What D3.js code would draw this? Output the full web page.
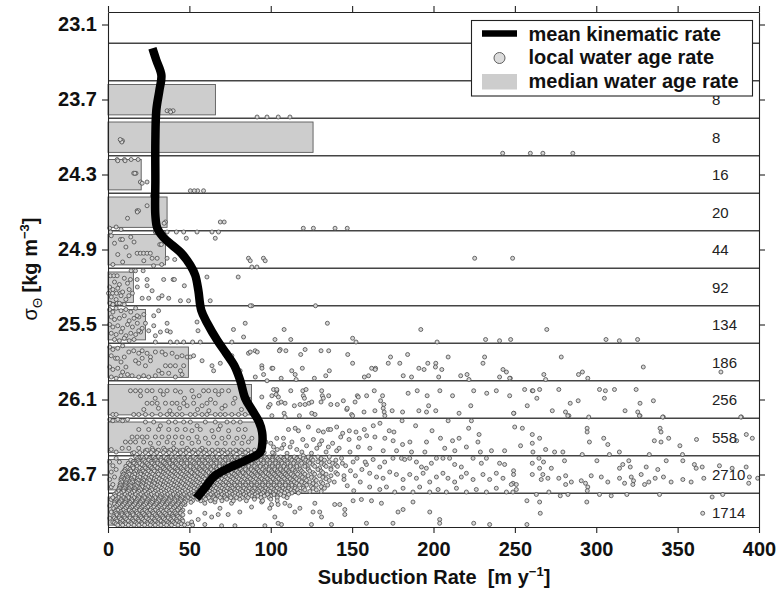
<!DOCTYPE html>
<html><head><meta charset="utf-8">
<script src="https://cdn.jsdelivr.net/npm/d3@7"></script>
<style>
body{margin:0;background:#fff}
text{font-family:"Liberation Sans",Arial,Helvetica,sans-serif}
</style>
</head><body>
<svg id="chart" width="780" height="589"></svg>
<script>
// ---------------- DATA ----------------
const xTicks = [0,50,100,150,200,250,300,350,400];
const yTicks = [23.1,23.7,24.3,24.9,25.5,26.1,26.7];
const binLines = [23.25,23.55,23.85,24.15,24.45,24.75,25.05,25.35,25.65,25.95,26.25,26.55,26.85];
const binTops  = [23.55,23.85,24.15,24.45,24.75,25.05,25.35,25.65,25.95,26.25,26.55,26.85];
const binCounts = [8,8,16,20,44,92,134,186,256,558,2710,1714];
const medianRate = [66,126,20.4,36.3,35.3,15.6,23,49.4,88.2,95,40,25];

const kinSigma = [23.29,23.386,23.506,23.626,23.786,24.026,24.346,24.626,24.73,24.802,24.866,24.93,25.026,25.106,25.226,25.386,25.49,25.626,25.73,25.826,25.946,26.09,26.186,26.282,26.362,26.466,26.522,26.586,26.642,26.714,26.802,26.89];
const kinRate  = [27.3,29.7,32.8,31.6,29.7,29.1,29.1,29.1,30.3,34.0,39.5,45.1,50.6,53.6,55.5,57.3,61.0,67.1,72.6,77.5,81.2,84.3,88.6,92.9,94.7,94.7,93.5,84.9,75.1,65.3,59.8,54.3];

// local water age rate points [rate, sigma]
const ptsRow1 = [[36.3,23.79],[38.1,23.79],[40,23.79],[38.5,23.8],[91.6,23.84],[97.7,23.84],[104.6,23.84],[111.8,23.84]];
const ptsRow2 = [[8.1,24.03],[8.9,24.03],[8.5,24.04],[7.5,24.02],[242.5,24.13],[259.5,24.13],[267.2,24.13],[285.6,24.13]];
const ptsRow3 = [[5.6,24.18],[10.1,24.18],[14.2,24.18],[18.5,24.18],[15.8,24.29],[17.2,24.29],[19.9,24.36],[24,24.36],[50.6,24.43],[55.1,24.43],[58.7,24.43],[16.5,24.29],[21,24.37],[10.5,24.19],[6,24.19],[53,24.43]];
const ptsRow4 = [[27.3,24.47],[30,24.47],[28.5,24.48],[17.9,24.59],[18.8,24.59],[35.3,24.68],[69,24.68],[71.4,24.68],[120,24.73],[126.2,24.73],[139.5,24.73],[147,24.73],[5,24.72],[1,24.73],[18,24.6],[34.5,24.69],[12,24.65],[24,24.55],[8,24.74],[29,24.47]];
const ptsRow5 = [[1.5,24.76],[29.1,24.76],[36.3,24.76],[42,24.76],[46.5,24.76],[54.7,24.76],[63.9,24.76],[67.9,24.76],[48.1,24.81],[65.9,24.81],[7.7,24.82],[8.9,24.82],[31.8,24.86],[32.8,24.86],[17.9,24.93],[19.9,24.93],[21.9,24.93],[24,24.93],[26,24.93],[27.1,24.97],[30.2,24.97],[36.3,24.97],[86.3,24.97],[95.5,24.97],[225.3,24.97],[248.6,24.97],[87.4,24.99],[96.6,24.99],[88.4,25.04],[91.5,25.04],[2,24.79],[4,24.85],[6,24.94],[9,25.0],[11,24.88],[14,24.8],[3,25.02],[13,24.95],[22,24.99],[28,25.03],[41,24.98],[44,24.93],[33,25.02],[16,24.84]];
const ptsRow6 = [[14.2,25.07],[16.9,25.07],[21.6,25.07],[1.5,25.11],[3.6,25.11],[5.6,25.11],[60.8,25.12],[80,25.12],[13.8,25.14],[17.9,25.14],[24,25.14],[34.2,25.14],[40,25.14],[40.8,25.14],[24,25.19],[46.9,25.19],[27.1,25.23],[0.3,25.25],[2.8,25.25],[5.2,25.25],[7.7,25.25],[12.8,25.27],[33.2,25.27],[21,25.29],[25,25.29],[31.1,25.29],[37.3,25.29],[44.5,25.31],[49.5,25.31],[62.8,25.31],[1.5,25.33],[5.6,25.33],[88.4,25.35],[127.5,25.35],[87.4,25.35],[1,25.2],[3,25.22],[6,25.21],[9,25.24],[2,25.28],[5,25.3],[8,25.27],[11,25.3],[13,25.22],[4,25.16],[7,25.18],[10,25.13],[12,25.17],[15,25.25],[18,25.2],[1,25.33],[3,25.34],[7,25.33],[10,25.34]];
const ptsRow7 = [[1,25.38],[3,25.4],[5,25.37],[8,25.39],[11,25.38],[14,25.4],[17,25.37],[2,25.44],[4,25.46],[7,25.45],[10,25.43],[13,25.47],[16,25.45],[19,25.44],[22,25.42],[1,25.5],[3,25.52],[6,25.51],[9,25.53],[12,25.5],[15,25.52],[18,25.49],[21,25.53],[2,25.57],[5,25.58],[8,25.56],[11,25.59],[14,25.57],[17,25.58],[20,25.56],[4,25.62],[7,25.63],[10,25.61],[13,25.63],[16,25.62],
 [17.9,25.43],[28.1,25.43],[31.1,25.39],[36.3,25.49],[23,25.49],[84.3,25.49],[28.1,25.51],[54.7,25.48],[18.9,25.55],[25,25.55],[36.3,25.55],[55.3,25.55],[32.2,25.56],[38.3,25.56],[29.1,25.59],[65.9,25.6],[83.3,25.6],[77.1,25.54],[108.2,25.54],[192.2,25.54],[269.6,25.54],[102.6,25.62],[112.3,25.62],[232,25.62],[247.4,25.62],[306,25.62],[325.4,25.62],[29.1,25.64],[38.3,25.64],[42.4,25.64],[46.5,25.64],[52,25.64],[56.7,25.64],[76.1,25.64],[152.4,25.64],[202.2,25.64],[240.6,25.63],[314.2,25.63],[134.8,25.49],[150.3,25.61]];
const ptsRow8 = [[12.8,25.72],[15.8,25.71],[18.9,25.73],[21,25.71],[24,25.73],[26.1,25.76],[29.1,25.72],[33.2,25.72],[35.3,25.74],[39.4,25.73],[42.4,25.76],[45.5,25.75],[48.6,25.76],[50.6,25.76],[16.9,25.79],[18.9,25.81],[21,25.77],[23,25.83],[26.1,25.79],[31.1,25.87],[35.3,25.83],[38.3,25.83],[41.4,25.83],[44.5,25.87],[46.5,25.83],[14.8,25.91],[18.9,25.92],[21.9,25.91],[25,25.92],[29.1,25.91],[33.2,25.89],[37.3,25.89],[41.4,25.92],[45.5,25.9],[52.6,25.75],[57.8,25.79],[63.9,25.83],[64.9,25.87],[69,25.81],[74.1,25.78],[76.1,25.75],[81.2,25.87],[86.3,25.73],[90.4,25.71],[94.5,25.83],[100.7,25.85],[105.8,25.7],[4.6,25.77],[5.8,25.77],
 [1,25.68],[3,25.7],[6,25.69],[9,25.67],[2,25.75],[8,25.8],[10,25.76],[1,25.84],[3,25.86],[6,25.85],[9,25.88],[11,25.84],[2,25.92],[5,25.93],[8,25.91],[12,25.9],
 [87.4,25.72],[91.7,25.72],[94.6,25.85],[95.6,25.9],[97.7,25.95],[90.5,25.92],
 [105.3,25.71],[109.3,25.71],[121.1,25.7],[118.4,25.74],[130.9,25.71],[135.6,25.71],[147.3,25.74],[150.3,25.81],[101.3,25.85],[112.9,25.87],[115,25.9],[119.4,25.85],[106.4,25.93],[115.6,25.94],[126.8,25.93],[133.8,25.91],[136,25.87],[157.5,25.92],[160.1,25.91],[162,25.85],[164.4,25.85],[164.2,25.86],[172.2,25.81],[173.6,25.76],[179.3,25.81],[184.1,25.74],[181.4,25.91],[186.5,25.92],[191,25.85],[194.2,25.86],[196.5,25.81],[201.4,25.81],[201.2,25.84],[205.1,25.86],[203.2,25.92],[209,25.76],[216.7,25.91],[220.6,25.9],[221.8,25.94],[230.4,25.81],[231.4,25.76],[240.6,25.92],[242.7,25.86],[244.8,25.88],[247.2,25.93],
 [278.5,25.76],[328.9,25.84],[267.8,25.9],[268.9,25.94],[289.1,25.9],[291.5,25.88],[294.8,25.93],[376.6,25.88],[246.8,25.93]];
const ptsRow9 = [[13.8,26.03],[16.9,26.03],[19.9,26.03],[24,26.03],[27.1,26.03],[32.2,26.03],[36.3,26.03],[41.4,26.03],[51.6,26.03],[58.7,26.03],[61.8,26.03],[65.9,26.03],[70,26.03],[74.1,26.03],[44.5,26.04],[52.6,26.08],[24,26.13],[27.1,26.13],[30.2,26.13],[35.3,26.13],[39.4,26.13],[42.4,26.13],[46.5,26.13],[52.6,26.13],[60.8,26.13],[65.9,26.13],[48.6,26.15],[57.8,26.15],[72,26.15],[15.8,26.22],[18.9,26.22],[23,26.22],[27.1,26.22],[32.2,26.22],[36.3,26.22],[39.4,26.22],[42.4,26.22],[45.5,26.22],[50.6,26.22],[53.6,26.22],[57.8,26.22],[60.8,26.22],[65.9,26.22],[69,26.22],[72,26.22],[76.1,26.22],[80.2,26.22],[84.3,26.22],[94.5,26.08],[100.7,26.07],[103.7,26.03],[104.7,26.13],[98.6,26.16],[3,26.22],[5,26.22],
 [20,26.07],[29,26.09],[34,26.06],[47,26.09],[56,26.07],[63,26.1],[68,26.06],[78,26.09],[84,26.05],[22,26.18],[31,26.17],[38,26.19],[44,26.17],[55,26.18],[62,26.19],[70,26.17],[77,26.13],[82,26.18],[87,26.1],
 [101.7,26.02],[103.7,26.02],[103.3,26.06],[104.7,26.08],[112.3,26.03],[119.7,26.03],[121.7,26.02],[120,26.07],[120.7,26.09],[131.3,26.03],[131.7,26.07],[132.3,26.09],[135.6,26.07],[99.6,26.14],[106.4,26.12],[108.8,26.13],[114.5,26.15],[118,26.14],[121.1,26.14],[123.5,26.13],[125.2,26.12],[130.9,26.12],[136.9,26.14],[140.9,26.14],[144.6,26.11],[146.7,26.18],[151.8,26.12],[153.2,26.07],[153.8,26.08],[158.9,26.07],[163.6,26.03],[167.5,26.11],[168.7,26.07],[169.5,26.14],[169.1,26.17],[169.7,26.2],[170.1,26.23],[164,26.19],[149.7,26.22],[147,26.17],[157.3,26.2],[174.6,26.19],[181,26.2],[184.4,26.05],[190,26.03],[196.1,26.07],[197,26.15],[191,26.19],[195.7,26.2],[201.4,26.19],[203.9,26.03],[211.7,26.07],[215.7,26.21],[222.9,26.15],[224.7,26.03],[232.7,26.05],[238.6,26.03],[246.8,26.07],[249.4,26.21],[100.7,26.23],[108.2,26.21],[108.8,26.24],[117.6,26.23],[125.2,26.21],[127.2,26.22],[150.3,26.23],
 [256,26.02],[260.7,26.03],[261.1,26.03],[265.2,26.02],[263.5,26.09],[277,26.02],[302,26.02],[305.6,26.03],[305,26.09],[311.2,26.02],[324.5,26.02],[326.9,26.13],[335.1,26.11],[288.9,26.11],[284,26.13],[257.6,26.15],[249.2,26.21],[273,26.19],[281.1,26.2],[283.2,26.23],[295.4,26.24],[317.7,26.19],[325.5,26.2],[326.9,26.23],[341.2,26.24],[389.2,26.24]];
const ptsRow10 = [[23,26.28],[28.1,26.28],[37.3,26.28],[41.4,26.28],[46.5,26.28],[50.6,26.28],[59.8,26.28],[65.9,26.28],[73.1,26.28],[77.1,26.28],[81.2,26.28],[32.2,26.31],[54.7,26.31],[69,26.31],[18.9,26.34],[25,26.34],[31.1,26.34],[37.3,26.34],[42.4,26.34],[47.5,26.34],[56.7,26.34],[67.9,26.34],[80.2,26.34],[84.3,26.34],[51.6,26.35],[63.9,26.35],[74.1,26.35],[14.8,26.4],[17.9,26.4],[21,26.4],[24,26.4],[29.1,26.4],[33.2,26.4],[37.3,26.4],[41.4,26.4],[45.5,26.4],[54.7,26.4],[64.9,26.4],[74.1,26.4],[83.3,26.4],[49.5,26.41],[59.8,26.41],[70,26.41],[79.2,26.41],[88.4,26.41],[10.7,26.44],[13.8,26.44],[16.9,26.44],[21.9,26.44],[36.3,26.44],[55.7,26.44],[86.3,26.44],[26.1,26.45],[31.1,26.45],[40.3,26.45],[45.5,26.45],[51.6,26.45],[61.8,26.45],[67,26.45],[72,26.45],[77.1,26.45],[82.3,26.45],[8.7,26.49],[12.8,26.49],[18.9,26.49],[27.1,26.49],[34.2,26.49],[40.3,26.49],[48.6,26.49],[57.8,26.49],[23,26.51],[30.2,26.51],[37.3,26.51],[44.5,26.51],[52.6,26.51],[63.9,26.51],[69,26.51],[79.2,26.51],[83.3,26.52],[75.1,26.52],
 [1,26.26],[3,26.27],[6,26.26],[9,26.27],[12,26.26],[2,26.5],[5,26.52],[15,26.53],
 [110.9,26.34],[115,26.33],[117,26.35],[123.1,26.32],[129.3,26.35],[132.3,26.36],[135.4,26.34],[136.8,26.34],[140.5,26.32],[144.2,26.37],[148.3,26.35],[152.4,26.36],[157.5,26.34],[163,26.31],[167.1,26.29],[172.8,26.35],[175.7,26.36],[180.7,26.27],[189,26.31],[199.1,26.35],[209,26.27],[221.6,26.33],[228,26.38],[223.3,26.27],[249.9,26.32],[103.7,26.41],[107.8,26.41],[119.7,26.42],[126.2,26.42],[131.3,26.43],[143,26.4],[148.1,26.42],[154.4,26.41],[158.9,26.39],[164,26.4],[170.1,26.41],[175.2,26.43],[181,26.46],[185.5,26.44],[195.7,26.44],[204.3,26.41],[211.7,26.43],[215.7,26.41],[220.2,26.48],[227.3,26.44],[228.8,26.52],[235.6,26.51],[243.7,26.51],[101.7,26.48],[106.8,26.49],[111.9,26.48],[119.1,26.52],[128.3,26.49],[135.4,26.48],[140.5,26.51],[148.7,26.52],[153.8,26.48],[160.9,26.49],[169.1,26.51],[177.3,26.51],[186.5,26.52],[194.7,26.52],[206.9,26.49],[213.1,26.51],
 [100,26.45],[104,26.5],[108,26.46],[113,26.44],[116,26.5],[122,26.47],[125,26.53],[130,26.46],[134,26.52],[138,26.45],[142,26.49],[102,26.53],[110,26.53],[120,26.55],[97,26.44],
 [254.6,26.33],[260.7,26.38],[265.2,26.41],[253.5,26.47],[260.7,26.45],[261.1,26.52],[268.9,26.5],[274.4,26.52],[279.5,26.52],[291.4,26.54],[294.4,26.33],[294.4,26.36],[295.8,26.44],[304.6,26.41],[307.1,26.46],[314.2,26.52],[308.1,26.54],[326.5,26.23],[339.2,26.33],[339.8,26.36],[335.7,26.43],[339.8,26.44],[344.5,26.41],[332.6,26.54],[351.4,26.47],[353,26.54],[361.6,26.42],[386.3,26.43],[392.2,26.38],[395.9,26.41],[282.5,26.23],[340.8,26.24],[388.8,26.24]];
const ptsRow11 = [[143.5,26.57],[150.6,26.6],[153,26.57],[158.8,26.62],[162.9,26.58],[167,26.64],[170,26.6],[175.1,26.57],[180.3,26.57],[182.3,26.58],[185.4,26.57],[189.5,26.6],[192.6,26.64],[195.6,26.65],[198.7,26.61],[201.8,26.57],[205.8,26.57],[209.9,26.57],[213,26.62],[217.1,26.64],[224.3,26.57],[229.4,26.61],[232.5,26.57],[240.6,26.61],[243.7,26.62],[160.8,26.69],[165,26.72],[169,26.73],[173.1,26.68],[177.2,26.7],[181.3,26.74],[185.4,26.7],[189.5,26.73],[193.6,26.69],[197.7,26.76],[201.8,26.72],[205.8,26.69],[208.9,26.73],[213,26.76],[217.1,26.72],[220.2,26.69],[224.3,26.74],[230.4,26.7],[234.5,26.74],[238.6,26.69],[242.7,26.73],[248.8,26.77],[160.8,26.8],[167,26.82],[171.1,26.8],[176.2,26.84],[181.3,26.81],[187.4,26.84],[191.5,26.8],[197.7,26.84],[202.8,26.82],[207.9,26.84],[214.1,26.81],[220.2,26.84],[226.3,26.82],[232.5,26.84],[238.6,26.81],[244.8,26.84],[250.9,26.82],
 [146,26.63],[149,26.67],[152,26.71],[155,26.76],[147,26.79],[151,26.83],[156,26.66],[145,26.74],[158,26.6],
 [260.7,26.61],[264.8,26.57],[265.2,26.65],[267.6,26.6],[272.4,26.65],[280.5,26.59],[267.2,26.7],[260.7,26.7],[249.2,26.67],[249.2,26.7],[247.8,26.78],[250.9,26.78],[248.8,26.84],[266.2,26.74],[270.3,26.73],[277,26.73],[281.2,26.71],[281.2,26.78],[284.7,26.76],[270.9,26.84],[290.8,26.75],[293.4,26.77],[294.8,26.8],[294.5,26.83],[296.9,26.71],[300.4,26.59],[303.1,26.72],[307.1,26.76],[314.3,26.65],[314.3,26.73],[316.3,26.62],[317.4,26.77],[320,26.59],[320.9,26.64],[321.5,26.72],[322.9,26.75],[322.5,26.78],[327.6,26.7],[329.7,26.78],[330.7,26.64],[332.3,26.76],[337.8,26.66],[336.2,26.73],[341.3,26.72],[343,26.59],[346,26.76],[353.2,26.74],[353.2,26.59],[358.3,26.76],[360.3,26.62],[361.4,26.65],[365.1,26.64],[366.1,26.73],[375.7,26.63],[383.5,26.65],[392.1,26.64],[394.1,26.72],[399.2,26.73],[393.7,26.77],
 [1,26.6],[3,26.63],[2,26.68],[5,26.57],[1,26.74],[4,26.72],[2,26.8],[6,26.83],[3,26.78],[7,26.6],[5,26.66]];
const ptsRow12 = [[263.2,26.86],[277.9,26.87],[282.6,26.86],[302,26.86],[309.2,26.87],[318.8,26.86],[338.9,26.86],[371.2,26.88],[377.7,26.86],[257.4,26.91],[265.2,26.92],[265.6,27.01],[294.2,26.92],[365.4,27.01],[257.4,27.1],
 [100.5,26.94],[104.5,26.94],[108.7,26.93],[111.7,26.95],[114.8,27],[117.9,26.97],[127.1,26.93],[126,27],[130.1,27],[131.2,27.04],[139.3,26.94],[142.4,26.94],[145.5,27.02],[145.5,26.98],[150.6,26.91],[155.7,26.9],[161.9,26.91],[168,26.93],[178.2,27],[181.3,26.98],[187.4,26.92],[197.7,27],[203.8,27.06],[203.8,27.09],[224.7,27.09],[234.5,27.1],[158.8,27.09],[175.1,27.09],[125,27.1],[106.6,27.1],[137.3,27.1],
 [47.3,26.94],[59.5,26.93],[65.7,26.92],[68.8,26.97],[75.9,26.93],[81,27],[73.8,27.02],[67.7,27.02],[59.5,27.01],[55.4,27.06],[63.7,27.04],[50.3,27],[88.2,26.96],[94.4,26.92],[99.4,26.97],[102.5,27.04],[51.4,27.08],[43.2,27.1],[59.5,27.1],[69.8,27.11],[78,27.11],[96.4,27.11],[104.5,27.09],
 [1,26.95],[2,27.0],[1,27.05],[3,27.08],[2,26.9]];

// dense packs of points: [sigma, [rates...]]
const densePoints = [
 [26.505,[24,27.5,31,35,38.5,42,46,49.5,53,56.5,60,64,67.5,71,75,78.5,82,86,90]],
 [26.525,[16,19.5,23,26.5,30,34,37.5,41,44.5,48,52,55.5,59,62.5,66,70,73.5,77,81,84.5,88,92,96,101]],
 [26.56,[17,21,23.5,28,31,34.5,39,41.5,46,49,52.5,57,59.5,64,67,70.5,75,78,81.5,85,89,92,96.5,99,103.5,106,110,114.5,118,123,129,136]],
 [26.5725,[18,22,25.5,29,32.5,36,40,43,47,50.5,54,58,61,65,68.5,72,76,79.5,83,86.5,90,94,97.5,101,104.5,108,112,116,120,125,131]],
 [26.585,[14,18.5,22,25,29.5,32.5,37,40,43.5,47.5,50.5,55,58,61.5,65.5,69,72,76.5,79.5,83,87.5,90.5,94,98,101,105.5,108.5,113,117,121.5,126,133,140]],
 [26.5975,[15.5,19,23,26.5,30.5,34,37.5,41.5,45,48.5,52,56,59.5,63,66.5,70.5,74,77.5,81,84.5,88.5,92,95.5,99.5,103,106.5,110,114.5,118.5,123,129,136]],
 [26.61,[12.5,16,19.5,24,27,30.5,35,38,42,45,48.5,53,56,60,63.5,66.5,71,74,77.5,81.5,85,88,92.5,95.5,99.5,103,107,110.5,114,119,124,131,138,144]],
 [26.6225,[13.5,17.5,21,25,28.5,32,36,39.5,43,46.5,50.5,54,57.5,61.5,65,68.5,72,76,79.5,83,86.5,90.5,94,97.5,101,104.5,108.5,112,116,121,126,133,140]],
 [26.635,[11,15,18,22.5,26,29,33,36.5,40,44,47,50.5,54.5,58,61,65,68.5,72,75.5,79,83,86.5,90,93.5,97,101,104.5,108,112,116,121,127,134,141]],
 [26.6475,[12,15.5,19.5,23,27,30.5,34,37.5,41.5,45,48.5,52.5,56,59.5,63,66.5,70.5,73.5,77,81,84.5,88,91.5,95.5,99,102.5,106,110,114,118,123,130,137]],
 [26.66,[10.5,13.5,17.5,21,24.5,28,32,35,38.5,42.5,46,49,53,56.5,60,63.5,67,71,74,77.5,81.5,84.5,88,92,95,99,102.5,106,109.5,113.5,118,123,129,137]],
 [26.6725,[10,14,17,21.5,25,28.5,32,36,39.5,43,46.5,50.5,54,57.5,61,65,68,71.5,75.5,79,82.5,86,89.5,93,96.5,100.5,104,107.5,111,115,119,124,131]],
 [26.685,[9,12.5,16,20,23,26.5,30.5,34,37,41,44.5,48,51.5,55,58.5,62,66,69,72.5,76,80,83,86.5,90.5,94,97,101,104.5,108,111.5,115.5,120,126,132,140]],
 [26.6975,[9.5,13,16.5,20,24,27.5,31,35,38.5,42,45.5,49,53,56.5,60,63.5,67,70.5,74,77.5,81,84.5,88,91.5,95,98.5,102,105.5,109,112.5,116.5,121,127,134,141]],
 [26.71,[9,11.5,15,18.5,22,25.5,29,33,36,39.5,43,47,50,53.5,57.5,60.5,64,68,71,74.5,78.5,81.5,85,89,92,95.5,99.5,103,106.5,110,114,118.5,123,130,137,145]],
 [26.7225,[8.5,12,16,19.5,23,26.5,30,34,37.5,41,44.5,48,51.5,55,58.5,62,65.5,69,72.5,76,79.5,83,86.5,90,93.5,97,100.5,104,107.5,111,115,119.5,125,132]],
 [26.735,[8,12,14.5,18,21.5,25,28.5,31.5,35.5,38.5,42,46,49,52.5,56,59.5,63,66.5,70,73.5,77,80.5,84,87.5,91,94.5,98,101.5,105,108.5,112,116,121,127,134]],
 [26.7475,[8,11.5,15,18.5,22,25.5,29.5,33,36.5,40,43.5,47,50.5,54,57.5,61,64.5,68,71.5,75,78.5,82,85.5,89,92.5,96,99.5,103,106.5,110,113.5,117.5,122,128,136]],
 [26.76,[8.5,11,15,17.5,21,24,28,31,34.5,38,41.5,45,48.5,52,55,58.5,62.5,65.5,69,72.5,76,79.5,83,86,90,93,96.5,100,103.5,107,110.5,114.5,119,124,131,139]],
 [26.7725,[7.5,11,14,18,21.5,25,28.5,32,35.5,39,42.5,46,49.5,53,56.5,60,63.5,67,70.5,74,77.5,81,84.5,88,91.5,95,98.5,102,105.5,109,112.5,116,121,126,132]],
 [26.785,[7.5,10.5,13.5,17,20.5,23.5,27,30.5,34,37,40.5,44,47.5,51,54,57.5,61,64.5,68,71,74.5,78,81,84.5,88,91.5,95,98.5,102,105.5,109,113,117.5,122,128,135]],
 [26.7975,[7,10.5,14,17.5,21,24.5,28,31.5,35,38.5,42,45,48.5,52,55.5,59,62,65.5,69,72.5,76,79.5,83,86.5,90,93,96.5,100,103.5,107,111,115,120,125,131]],
 [26.81,[7,10,13,16.5,19.5,23,26.5,29.5,33,36.5,39.5,43,46.5,50,53,56.5,60,63,66.5,70,73.5,76.5,80,83.5,87,90,93.5,97,100.5,104,107.5,111,115,120,126,133]],
 [26.8225,[6.5,9.5,13,16.5,20,23.5,27,30.5,34,37.5,41,44,47.5,51,54.5,58,61.5,64.5,68,71.5,75,78,81.5,85,88.5,92,95,98.5,102,105.5,109,112.5,116.5,121,128]],
 [26.835,[6.5,9.5,12.5,16,19,22.5,25.5,29,32.5,35.5,39,42.5,45.5,49,52.5,55.5,59,62.5,65.5,69,72.5,75.5,79,82.5,86,89,92.5,96,99.5,103,106.5,110,114,118,124,131]],
 [26.8475,[5,8,11.5,14.5,18,21,24.5,28,31,34.5,38,41,44,47.5,51,54.5,58,61,64,67.5,71,74.5,78,81,84.5,88,91.5,95,98,101.5,105,108.5,113,117]],
 [26.86,[4,7,10.5,13.5,17,20,23.5,26.5,30,33,36.5,40,43,46.5,50,53,56.5,60,63,66.5,70,73,76.5,80,83.5,87,90.5,94,98,102,106,111]],
 [26.8725,[4.5,8.5,12,15,18.5,22,25,28.5,32,35,38.5,42,45,48.5,51.5,55,58.5,61.5,65,68,71.5,75,78,81.5,85,88.5,92,96,100,104,108]],
 [26.885,[3,6.5,9.5,12.5,16,19,22.5,25.5,29,32,35.5,38.5,42,45.5,49,52,55.5,59,62,65,69,72,75.5,79,82.5,86,90,94,99,104,110]],
 [26.8975,[5,8,11,14.5,18,21,24.5,27.5,31,34.5,37.5,41,44.5,47.5,51,55,60,66,73,81,90,100]],
 [26.91,[4.5,8,11,14.5,17.5,21,24,27.5,31,34,37.5,41,44.5,48,52,57,63,70,77,85,95,104]],
 [26.9225,[4,7,10.5,13.5,17,20,23.5,27,30,33.5,36.5,40,43.5,47,51]],
 [26.935,[4,6.5,10,13,16.5,19.5,23,26,29.5,33,36,39.5,43,46]],
 [26.9475,[5.5,9,12,15.5,18.5,22,25.5,28.5,32,35,38.5,42,45]],
 [26.96,[4.5,8,11.5,14.5,18,21,24.5,28,31,34.5,38,41,44.5]],
 [26.9725,[3.5,7,10.5,13.5,17,20,23,26.5,30,33,36.5,40,43.5]],
 [26.985,[5,6,9.5,13,16,19.5,22.5,26,29,32.5,36,39,42.5,46]],
 [26.9975,[4.5,8,11,14.5,17.5,21,24,27.5,31,34,37.5,41,45]],
 [27.01,[5,8.5,11.5,15,18,21.5,25,28,31.5,35,38,41.5,44.5]],
 [27.0225,[5.5,8.5,12,15.5,19,22.5,25.5,29,32.5,36,39.5,42.5,46]],
 [27.035,[3.5,7,10,13.5,17,20,23.5,27,30,33.5,37,40,43]],
 [27.0475,[4,7,10.5,13.5,17,20.5,23.5,27,30.5,34,37,40.5,44]],
 [27.06,[5,8,11.5,15,18.5,21.5,25,28.5,31.5,35,38.5,42,45.5]],
 [27.0725,[5.5,9,12.5,15.5,19,22.5,26,29,32.5,36,39.5,42.5,46]],
 [27.085,[4,7.5,10.5,14,17,20.5,24,27,30.5,34,37,40.5,44]],
 [27.095,[5,8,11,14.5,18,21,24.5,28,31,34.5,38,41.5,45,49]],
 [27.105,[6,9,12.5,16,19,22.5,26,29,32.5,36,39,43,47,52]]
];

// ---------------- DRAW ----------------
const svg = d3.select("#chart");
svg.append("rect").attr("width",780).attr("height",589).attr("fill","#fff");

const x = d3.scaleLinear().domain([0,400]).range([108,759]);
const y = d3.scaleLinear().domain([23.0,27.12]).range([12,527]);
const yMax = 27.12;

const plot = svg.append("g");

// median bars
plot.selectAll("rect.bar").data(binTops).enter().append("rect")
  .attr("class","bar")
  .attr("x", x(0))
  .attr("y", d => y(d + 0.03))
  .attr("width", (d,i) => x(medianRate[i]) - x(0))
  .attr("height", d => y(Math.min(d + 0.273, yMax - 0.015)) - y(d + 0.03))
  .attr("fill","#cdcdcd").attr("stroke","#5a5a5a").attr("stroke-width",0.9);

// bin lines
plot.selectAll("line.bin").data(binLines).enter().append("line")
  .attr("x1", x(0)).attr("x2", x(400))
  .attr("y1", d => y(d)).attr("y2", d => y(d))
  .attr("stroke","#444").attr("stroke-width",1.3);

// points
let allPts = [].concat(ptsRow1,ptsRow2,ptsRow3,ptsRow4,ptsRow5,ptsRow6,ptsRow7,ptsRow8,ptsRow9,ptsRow10,ptsRow11,ptsRow12);
densePoints.forEach(([s, xs]) => xs.forEach(v => allPts.push([v, s])));
plot.selectAll("circle.pt").data(allPts).enter().append("circle")
  .attr("class","pt")
  .attr("cx", d => x(d[0])).attr("cy", d => y(d[1])).attr("r", 2.0)
  .attr("fill","#d6d6d6").attr("stroke","#4a4a4a").attr("stroke-width",0.8);

// mean kinematic rate
const kin = kinSigma.map((s,i) => [kinRate[i], s]);
plot.append("path").datum(kin)
  .attr("d", d3.line().x(d => x(d[0])).y(d => y(d[1])).curve(d3.curveCatmullRom.alpha(0.5)))
  .attr("fill","none").attr("stroke","#000").attr("stroke-width",8.5)
  .attr("stroke-linejoin","round").attr("stroke-linecap","butt");

// counts
plot.selectAll("text.cnt").data(binTops).enter().append("text")
  .attr("x", 712).attr("y", d => y(d + 0.15))
  .attr("dominant-baseline","central")
  .attr("font-size", 15).attr("fill","#222")
  .text((d,i) => binCounts[i]);

// axes
const axL = svg.append("g").attr("transform","translate(108,0)")
  .call(d3.axisLeft(y).tickValues(yTicks).tickSize(6).tickSizeOuter(0).tickPadding(5).tickFormat(d3.format(".1f")));
const axR = svg.append("g").attr("transform","translate(759,0)")
  .call(d3.axisRight(y).tickValues(yTicks).tickSize(6).tickSizeOuter(0).tickFormat(""));
const axB = svg.append("g").attr("transform","translate(0,527)")
  .call(d3.axisBottom(x).tickValues(xTicks).tickSize(6).tickSizeOuter(0).tickPadding(9));
const axT = svg.append("g").attr("transform","translate(0,12)")
  .call(d3.axisTop(x).tickValues(xTicks).tickSize(6).tickSizeOuter(0).tickFormat(""));
[axL,axR,axB,axT].forEach(a => {
  a.selectAll("path.domain").attr("stroke","#222").attr("stroke-width",1.1);
  a.selectAll("line").attr("stroke","#222").attr("stroke-width",1.1);
  a.selectAll("text").attr("font-size",20).attr("font-weight","bold").attr("fill","#111")
   .attr("font-family",'"Liberation Sans",Arial,Helvetica,sans-serif');
});

// legend
const lg = svg.append("g");
lg.append("rect").attr("x",471.5).attr("y",20.5).attr("width",281).attr("height",75.5)
  .attr("fill","#fff").attr("stroke","#222").attr("stroke-width",1.1);
lg.append("line").attr("x1",482).attr("x2",517).attr("y1",33.5).attr("y2",33.5)
  .attr("stroke","#000").attr("stroke-width",6.5);
lg.append("circle").attr("cx",499.5).attr("cy",58).attr("r",5.5)
  .attr("fill","#dcdcdc").attr("stroke","#505050").attr("stroke-width",0.9);
lg.append("rect").attr("x",482).attr("y",74).attr("width",35).attr("height",15.5)
  .attr("fill","#cdcdcd");
const legendLabels = ["mean kinematic rate","local water age rate","median water age rate"];
lg.selectAll("text").data(legendLabels).enter().append("text")
  .attr("x",528.5).attr("y",(d,i) => 40.5 + i*23.8)
  .attr("font-size",20).attr("font-weight","bold").attr("fill","#111")
  .text(d => d);

// axis titles
const xl = svg.append("text").attr("x",434).attr("y",584).attr("text-anchor","middle")
  .attr("font-size",20).attr("font-weight","bold").attr("fill","#111")
  .style("white-space","pre");
xl.append("tspan").text("Subduction Rate  [m y");
xl.append("tspan").attr("font-size",13).attr("dy",-8).text("−1");
xl.append("tspan").attr("dy",8).text("]");

const yl = svg.append("text").attr("transform","translate(37,269) rotate(-90)")
  .attr("text-anchor","middle").attr("font-size",20).attr("font-weight","bold").attr("fill","#111")
  .style("white-space","pre");
yl.append("tspan").attr("font-weight","normal").text("σ");
yl.append("tspan").attr("font-size",13).attr("font-weight","normal").attr("dy",5).text("Θ");
yl.append("tspan").attr("dy",-5).text(" [kg m");
yl.append("tspan").attr("font-size",13).attr("dy",-8).text("−3");
yl.append("tspan").attr("dy",8).text("]");
</script>
</body></html>
